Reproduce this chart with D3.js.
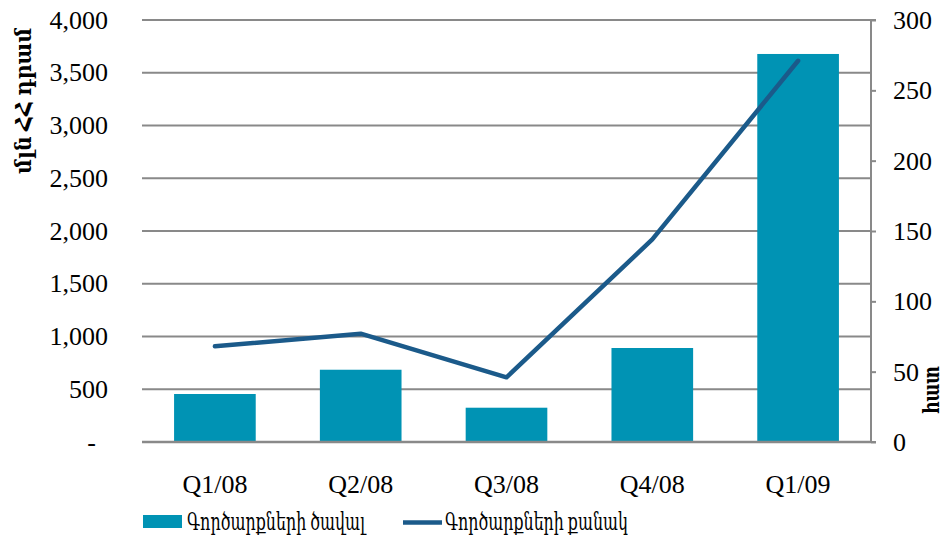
<!DOCTYPE html>
<html><head><meta charset="utf-8">
<script src="https://cdn.jsdelivr.net/npm/d3@7"></script>
<style>body{margin:0;background:#fff}svg{display:block}text{font-family:"Liberation Serif","DejaVu Serif","Times New Roman",serif;fill:#000}</style>
</head><body><svg id="c" width="946" height="540"></svg>
<script>
const categories = ["Q1/08","Q2/08","Q3/08","Q4/08","Q1/09"];
const volumeValues = [455, 685, 325, 891, 3678];
const countValues = [68, 77, 46, 144, 271];
const leftTicks = [0,500,1000,1500,2000,2500,3000,3500,4000];
const rightTicks = [0,50,100,150,200,250,300];
const leftTitle = "մլն ՀՀ դրամ";
const rightTitle = "հատ";
const seriesNames = ["Գործարքների ծավալ","Գործարքների քանակ"];

const FS = 26;
const svg = d3.select("#c");
const L = 142, R = 871, T = 20, B = 442;
const x = d3.scaleBand().domain(categories).range([L, R]).paddingInner(0.44).paddingOuter(0.22);
const yL = d3.scaleLinear().domain([0,4000]).range([B, T]);
const yR = d3.scaleLinear().domain([0,300]).range([B, T]);

// gridlines
svg.append("g").selectAll("line").data(leftTicks).join("line")
  .attr("x1", L).attr("x2", R).attr("y1", d=>yL(d)).attr("y2", d=>yL(d))
  .attr("stroke", "#898989").attr("stroke-width", 2);

// bars
svg.append("g").selectAll("rect").data(volumeValues).join("rect")
  .attr("x", (d,i)=>x(categories[i])).attr("width", x.bandwidth())
  .attr("y", d=>yL(d)).attr("height", d=>B - yL(d)).attr("fill", "#0093B4");

// baseline on top
svg.append("line").attr("x1", L).attr("x2", R).attr("y1", B).attr("y2", B)
  .attr("stroke", "#898989").attr("stroke-width", 2.5);

// line
const line = d3.line().x((d,i)=>x(categories[i]) + x.bandwidth()/2).y(d=>yR(d));
svg.append("path").datum(countValues).attr("d", line).attr("fill","none")
  .attr("stroke", "#1B5A8A").attr("stroke-width", 4.5).attr("stroke-linecap","round").attr("stroke-linejoin","round");

// left axis labels
const fmt = d3.format(",");
svg.append("g").selectAll("text").data(leftTicks).join("text")
  .attr("x", d => d===0 ? 96 : 108).attr("y", d=>yL(d)).attr("dy","0.33em")
  .attr("text-anchor","end").attr("font-size", FS)
  .text(d => d===0 ? "-" : fmt(d));

// right axis
const axR = d3.axisRight(yR).tickValues(rightTicks).tickSize(5).tickPadding(17);
const gR = svg.append("g").attr("transform", `translate(${R},0)`).call(axR);
gR.select(".domain").attr("stroke","#898989").attr("stroke-width",2).attr("d", `M5,${T}H0V${B}H5`);
gR.selectAll(".tick line").attr("stroke","#898989").attr("stroke-width",2);
gR.selectAll(".tick text").attr("font-size",FS).attr("fill","#000").attr("dy","0.33em")
  .style("font-family",'"Liberation Serif","DejaVu Serif",serif');

// x labels
svg.append("g").selectAll("text").data(categories).join("text")
  .attr("x", d=>x(d)+x.bandwidth()/2).attr("y", 493).attr("text-anchor","middle")
  .attr("font-size", FS).text(d=>d);

// axis titles
svg.append("text").attr("transform","translate(31,101) rotate(-90)").attr("text-anchor","middle")
  .attr("font-size", 23).attr("font-weight","bold")
  .attr("textLength", 146).attr("lengthAdjust","spacingAndGlyphs").text(leftTitle);
svg.append("text").attr("transform","translate(939,390) rotate(-90)").attr("text-anchor","middle")
  .attr("font-size", 22).attr("font-weight","bold")
  .attr("textLength", 48).attr("lengthAdjust","spacingAndGlyphs").text(rightTitle);

// legend
svg.append("rect").attr("x",143).attr("y",515).attr("width",39).attr("height",13).attr("fill","#0093B4");
svg.append("text").attr("x",187).attr("y",530).attr("font-size",25)
  .attr("textLength",178).attr("lengthAdjust","spacingAndGlyphs").text(seriesNames[0]);
svg.append("line").attr("x1",403).attr("x2",442).attr("y1",522.5).attr("y2",522.5)
  .attr("stroke","#1B5A8A").attr("stroke-width",4.5);
svg.append("text").attr("x",445).attr("y",530).attr("font-size",25)
  .attr("textLength",183).attr("lengthAdjust","spacingAndGlyphs").text(seriesNames[1]);
</script></body></html>
